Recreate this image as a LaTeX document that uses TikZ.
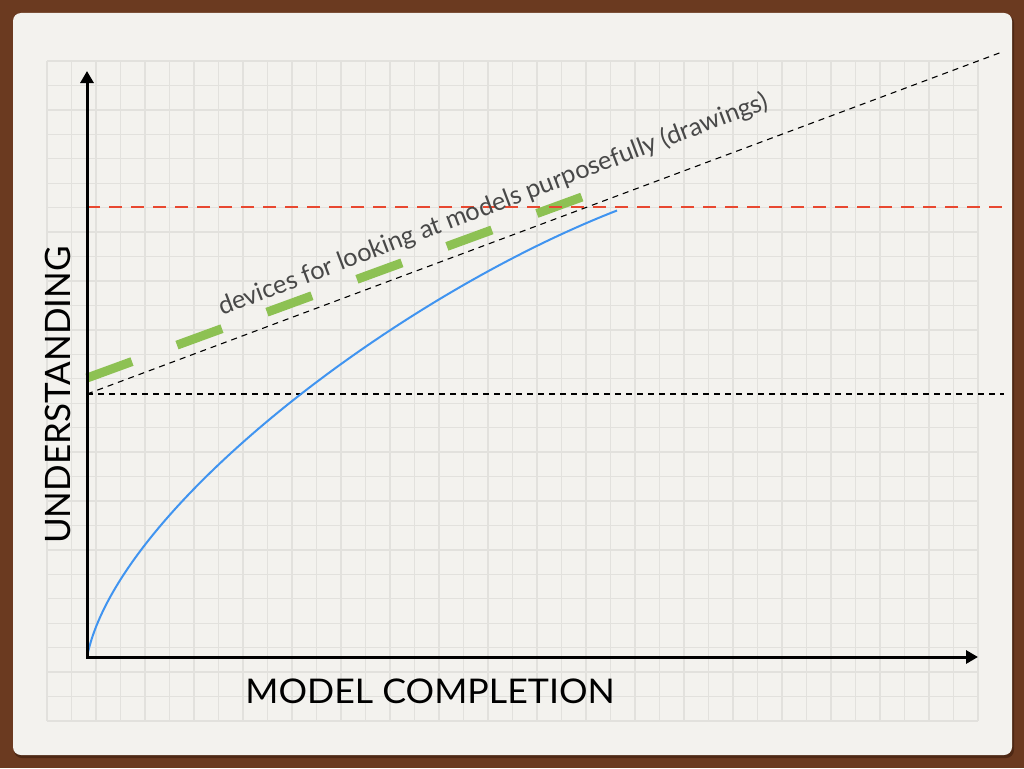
\documentclass[tikz,border=0pt]{standalone}
\usepackage{fontspec}
\setmainfont{Lato}
\newfontfamily\widelato[FakeStretch=1.05]{Lato}
\usetikzlibrary{arrows.meta}
\definecolor{wood}{RGB}{107,58,32}
\definecolor{woodshadow}{RGB}{78,40,20}
\definecolor{paper}{RGB}{243,242,238}
\definecolor{gridc}{RGB}{226,225,221}
\definecolor{redd}{RGB}{232,72,48}
\definecolor{greend}{RGB}{141,193,83}
\definecolor{bluec}{RGB}{64,148,240}
\definecolor{textgray}{RGB}{72,72,72}
\begin{document}
\begin{tikzpicture}[x=1pt,y=-1pt,
  gridline/.style={draw=gridc,line width=1.3pt},
  axisline/.style={line width=3pt,line join=miter,
    {Triangle[width=13pt,length=12pt]}-{Triangle[width=13pt,length=12pt]}},
  thindash/.style={line width=1.1pt,dash pattern=on 6pt off 5pt},
  reddash/.style={redd,line width=2.5pt,dash pattern=on 13pt off 9pt},
  greendash/.style={greend,line width=9pt,dash pattern=on 47.9pt off 47.9pt},
  curve/.style={bluec,line width=2pt},
  xlabel/.style={font=\widelato\fontsize{34}{40}\selectfont,text=black,inner sep=0pt},
  ylabel/.style={font=\fontsize{35}{40}\selectfont,text=black,inner sep=0pt},
  slantlabel/.style={font=\fontsize{25.3}{30}\selectfont,text=textgray,inner sep=0pt}]
\useasboundingbox (0,0) rectangle (1024,768);
\fill[wood] (0,0) rectangle (1024,768);
\fill[woodshadow,rounded corners=8pt] (14,15) rectangle (1014,758);
\fill[paper,rounded corners=8pt] (13,13) rectangle (1012,755);
% grid
\foreach \i in {0,...,38} \draw[gridline] ({47+24.5*\i},61) -- ({47+24.5*\i},721);
\foreach \j in {0,...,27} \draw[gridline] (47,{61+24.444*\j}) -- (978,{61+24.444*\j});
% key coordinates
\coordinate (O) at (87,657);
\coordinate (ytip) at (87,71);
\coordinate (xtip) at (978,657);
\coordinate (base) at (87,394);
\coordinate (baseend) at (1004,394);
\coordinate (slopeend) at (1002,52);
\coordinate (redstart) at (87,207);
\coordinate (redend) at (1004,207);
\coordinate (gstart) at (87,378);
\coordinate (gend) at (582,197);
\coordinate (cend) at (617,210.5);
% lines
\draw[greendash] (gstart) -- (gend);
\draw[thindash] (base) -- (baseend);
\draw[thindash] (base) -- (slopeend);
\draw[reddash] (redstart) -- (redend);
\draw[curve] (O) .. controls (116,510) and (395,297) .. (cend);
\draw[axisline] (ytip) -- (O) -- (xtip);
% labels
\node[xlabel,anchor=base] (xl) at (430,703) {MODEL COMPLETION};
\node[ylabel,rotate=90,anchor=base] (yl) at (70,395) {UNDERSTANDING};
\node[slantlabel,rotate=20.8,anchor=base west] (dev) at (222,316) {devices for looking at models purposefully (drawings)};
\end{tikzpicture}
\end{document}
